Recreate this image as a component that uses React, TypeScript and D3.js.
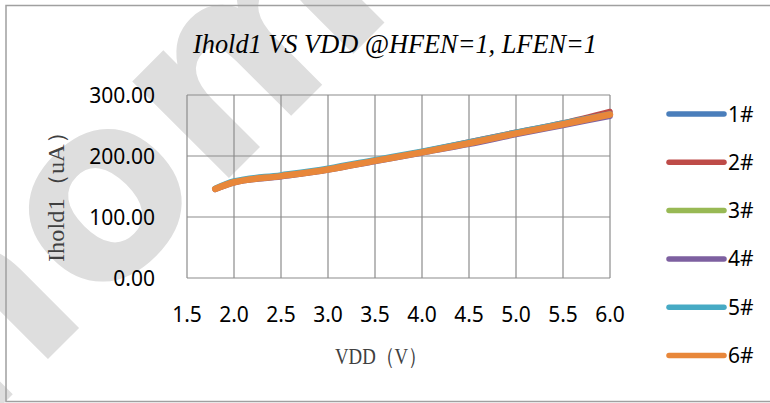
import React from 'react';
import * as d3 from 'd3';

const vdd = [1.8, 2.0, 2.5, 3.0, 3.5, 4.0, 4.5, 5.0, 5.5, 6.0];
const s1 = [146, 157, 167, 178, 192, 206, 221, 237, 252, 269];
const s2 = [146, 157, 167, 178, 192, 207, 223, 239, 254, 273];
const s3 = [146, 157, 167, 178, 192, 206, 221, 237, 252, 268];
const s4 = [145, 156, 166, 177, 191, 205, 219, 235, 250, 265];
const s5 = [147, 159, 169, 180, 194, 208, 223, 239, 254, 269];
const s6 = [146, 157, 167, 178, 192, 206, 221, 237, 252, 268];
const seriesNames = ['1#', '2#', '3#', '4#', '5#', '6#'];
const seriesValues = [s1, s2, s3, s4, s5, s6];
const seriesColors = ['#4A7EBB', '#BE4B48', '#98B954', '#7D60A0', '#46AAC4', '#E8873A'];
const xTicks = [1.5, 2.0, 2.5, 3.0, 3.5, 4.0, 4.5, 5.0, 5.5, 6.0];
const yTicks = [0, 100, 200, 300];

const title = 'Ihold1 VS VDD @HFEN=1, LFEN=1';
const yTitle = 'Ihold1（uA）';
const xTitle = 'VDD（V）';
const watermark = 'nom';

export default function App() {
  const W = 770, H = 403;
  const left = 187, right = 610, top = 95, bottom = 278;
  const x = d3.scaleLinear().domain([1.5, 6.0]).range([left, right]);
  const y = d3.scaleLinear().domain([0, 300]).range([bottom, top]);
  const line = d3.line<number>()
    .x((d, i) => x(vdd[i]))
    .y((d) => y(d))
    .curve(d3.curveMonotoneX);
  const tickFont = '"Noto Sans", sans-serif';
  const grid = '#8c8c8c';
  return (
    <svg width={W} height={H} style={{ position: 'absolute', left: 0, top: 0 }}>
      <rect x={0} y={0} width={W} height={H} fill="#fff" />
      <g clipPath="url(#clipAll)">
        <clipPath id="clipAll"><rect x={0} y={0} width={W} height={H} /></clipPath>
        <text transform="translate(-33,440) rotate(-45)" fontFamily="DejaVu Sans" fontWeight="bold" fontSize={250} fill="#dedede">{watermark}</text>
      </g>
      <rect x={6} y={5.5} width={W + 10} height={396} fill="none" stroke="#a0a0a0" strokeWidth={1.5} />
      <text x={395} y={53} textAnchor="middle" fontFamily="Liberation Serif" fontStyle="italic" fontSize={27} textLength={404} lengthAdjust="spacingAndGlyphs" fill="#000">{title}</text>
      {yTicks.map((t) => (
        <line key={'gy' + t} x1={left} x2={right} y1={y(t)} y2={y(t)} stroke={grid} strokeWidth={1.2} />
      ))}
      {xTicks.map((t) => (
        <line key={'gx' + t} x1={x(t)} x2={x(t)} y1={top} y2={bottom} stroke={grid} strokeWidth={1.2} />
      ))}
      {yTicks.map((t) => (
        <text key={'ty' + t} x={155} y={y(t) + 7.5} textAnchor="end" fontFamily={tickFont} fontSize={21} fill="#000">{t.toFixed(2)}</text>
      ))}
      {xTicks.map((t) => (
        <text key={'tx' + t} x={x(t)} y={322} textAnchor="middle" fontFamily={tickFont} fontSize={21} fill="#000">{t.toFixed(1)}</text>
      ))}
      <text transform="translate(64,191) rotate(-90)" textAnchor="middle" fontFamily="Liberation Serif" fontSize={23} textLength={142} lengthAdjust="spacingAndGlyphs" fill="#404040">{yTitle}</text>
      <text x={381} y={364} textAnchor="middle" fontFamily="Liberation Serif" fontSize={23} textLength={92} lengthAdjust="spacingAndGlyphs" fill="#404040">{xTitle}</text>
      {seriesValues.map((s, i) => (
        <path key={'s' + i} d={line(s) || ''} fill="none" stroke={seriesColors[i]} strokeWidth={i === 5 ? 6.5 : 5.5} strokeLinecap="round" strokeLinejoin="round" />
      ))}
      {seriesNames.map((n, i) => (
        <g key={'lg' + i} transform={`translate(0,${114 + i * 48.3})`}>
          <line x1={669} x2={724} y1={0} y2={0} stroke={seriesColors[i]} strokeWidth={5.5} strokeLinecap="round" />
          <text x={728} y={7.5} fontFamily={tickFont} fontSize={21} fill="#000">{n}</text>
        </g>
      ))}
    </svg>
  );
}
